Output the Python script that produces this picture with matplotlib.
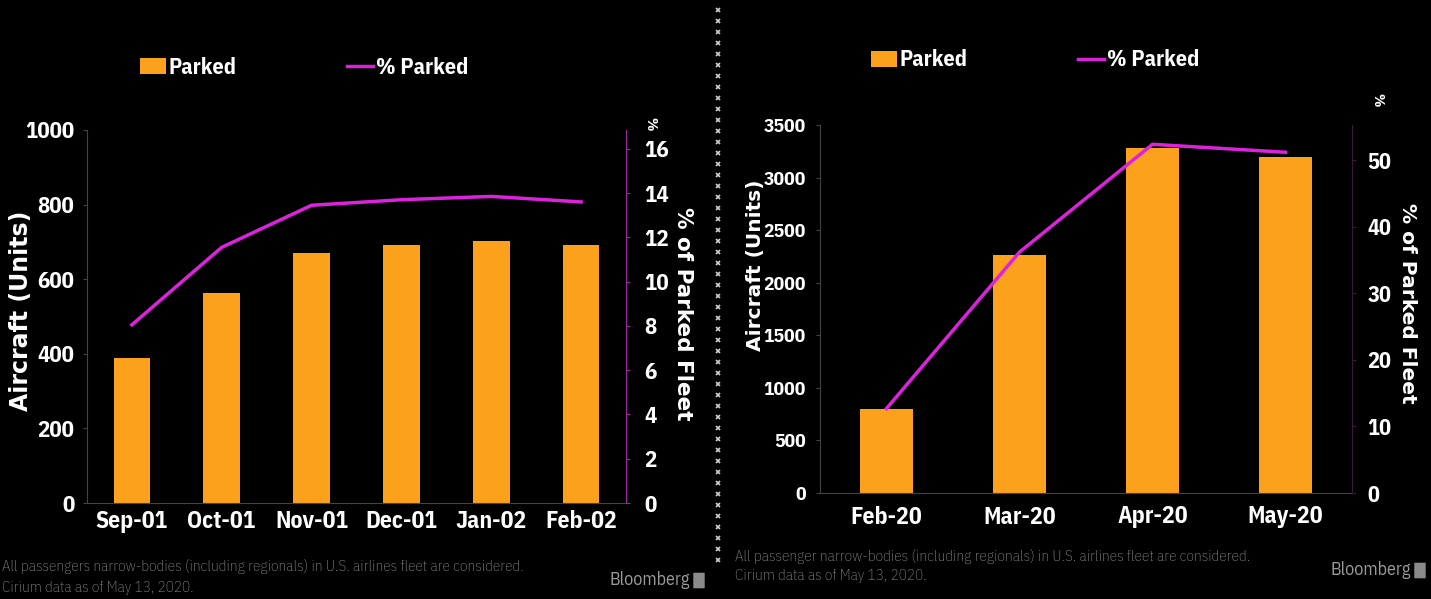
import matplotlib.pyplot as plt
from matplotlib.lines import Line2D
from matplotlib.patches import Patch, FancyBboxPatch
import numpy as np

# Data
months_2001 = ['Sep-01', 'Oct-01', 'Nov-01', 'Dec-01', 'Jan-02', 'Feb-02']
parked_2001 = [388, 564, 670, 693, 702, 693]
pct_2001 = [8.05, 11.55, 13.45, 13.7, 13.85, 13.6]

months_2020 = ['Feb-20', 'Mar-20', 'Apr-20', 'May-20']
parked_2020 = [800, 2268, 3278, 3198]
pct_2020 = [12.7, 36.2, 52.4, 51.2]

left_yticks = [0, 200, 400, 600, 800, 1000]
left_pct_ticks = [0, 2, 4, 6, 8, 10, 12, 14, 16]
right_yticks = [0, 500, 1000, 1500, 2000, 2500, 3000, 3500]
right_pct_ticks = [0, 10, 20, 30, 40, 50]

note_2001 = ("All passengers narrow-bodies (including regionals) in U.S. airlines fleet are considered.\n"
             "Cirium data as of May 13, 2020.")
note_2020 = ("All passenger narrow-bodies (including regionals) in U.S. airlines fleet are considered.\n"
             "Cirium data as of May 13, 2020.")

BG = '#000000'
ORANGE = '#FBA11B'
MAGENTA = '#DD22DD'
GRID = '#444444'
FONT = ['IBM Plex Sans Condensed', 'DejaVu Sans']
WIDE = ['DejaVu Sans']

plt.rcParams['font.family'] = FONT

W, H = 1431, 599
fig = plt.figure(figsize=(W / 100, H / 100), dpi=100)
fig.patch.set_facecolor(BG)


def px_axes(x0, y_top, x1, y_bot):
    return fig.add_axes([x0 / W, 1 - y_bot / H, (x1 - x0) / W, (y_bot - y_top) / H])


def style_panel(ax, ax2, spine2_color, ysize, ypad, y2size, y2pad):
    for a in (ax, ax2):
        a.set_facecolor('none')
        a.spines['top'].set_visible(False)
    ax.set_facecolor(BG)
    ax.spines['right'].set_visible(False)
    ax.spines['left'].set_color(GRID)
    ax.spines['bottom'].set_color(GRID)
    ax2.spines['left'].set_visible(False)
    ax2.spines['bottom'].set_visible(False)
    ax2.spines['right'].set_color(spine2_color)
    ax.tick_params(axis='y', colors=GRID, length=3, labelcolor='white', labelsize=ysize, pad=ypad)
    ax.tick_params(axis='x', length=0, labelcolor='white', labelsize=17, pad=5)
    ax2.tick_params(axis='y', colors=spine2_color, length=3, labelcolor='white',
                    labelsize=y2size, pad=y2pad)
    for lab in ax.get_xticklabels() + ax.get_yticklabels() + ax2.get_yticklabels():
        lab.set_fontweight('bold')


def add_legend(ax, x, y):
    handles = [Patch(facecolor=ORANGE, edgecolor='none'),
               Line2D([], [], color=MAGENTA, lw=2.5)]
    leg = ax.legend(handles, ['Parked', '% Parked'], ncol=2, frameon=False,
                    loc='center left', bbox_to_anchor=(x / W, 1 - y / H),
                    bbox_transform=fig.transFigure, handlelength=1.15, handleheight=0.7,
                    handletextpad=0.12, columnspacing=5.0, borderpad=0, borderaxespad=0,
                    prop={'family': FONT, 'weight': 'bold', 'size': 16})
    for t in leg.get_texts():
        t.set_color('white')


def credit(x_right, y):
    # "Bloomberg" wordmark with its small grey badge
    fig.text((x_right - 16) / W, 1 - y / H, 'Bloomberg', color='#9a9a9a', fontsize=13,
             ha='right', va='center')
    fig.patches.append(FancyBboxPatch(((x_right - 12) / W, 1 - (y + 8) / H), 10 / W, 15 / H,
                                      boxstyle='round,pad=0.0005', transform=fig.transFigure,
                                      facecolor='#8a8a8a', edgecolor='none'))


# ---- left panel: 2001 ----
ax = px_axes(87, 130, 626, 503)
ax2 = ax.twinx()
x1 = np.arange(len(months_2001))
ax.bar(x1, parked_2001, width=0.41, color=ORANGE, zorder=2)
ax2.plot(x1, pct_2001, color=MAGENTA, lw=2.5, zorder=3)
ax.set_xlim(-0.5, len(months_2001) - 0.5)
ax.set_ylim(0, 1000)
ax2.set_ylim(0, 16.85)
ax.set_yticks(left_yticks)
ax2.set_yticks(left_pct_ticks)
ax.set_xticks(x1)
ax.set_xticklabels(months_2001)
style_panel(ax, ax2, '#9A2A9A', 16.5, 6, 16.5, 10)
ax.set_ylabel('Aircraft (Units)', color='white', fontsize=17, fontweight='bold', family=WIDE)
ax.yaxis.set_label_coords(-0.1, 0.515)
fig.text(683 / W, 1 - 314 / H, '% of Parked Fleet', rotation=-90, color='white',
         fontsize=15.5, fontweight='bold', family=WIDE, ha='center', va='center')
fig.text(650 / W, 1 - 124 / H, '%', rotation=-90, color='white', fontsize=11,
         fontweight='bold', ha='center', va='center')
add_legend(ax, 140, 67)

# ---- right panel: 2020 ----
bx = px_axes(820, 125, 1352, 493)
bx2 = bx.twinx()
x2 = np.arange(len(months_2020))
bx.bar(x2, parked_2020, width=0.4, color=ORANGE, zorder=2)
bx2.plot(x2, pct_2020, color=MAGENTA, lw=2.5, zorder=3)
bx.set_xlim(-0.5, len(months_2020) - 0.5)
bx.set_ylim(0, 3500)
bx2.set_ylim(0, 55.3)
bx.set_yticks(right_yticks)
bx2.set_yticks(right_pct_ticks)
bx.set_xticks(x2)
bx.set_xticklabels(months_2020)
style_panel(bx, bx2, '#3c1a3c', 14, 7, 16, 8)
bx.tick_params(axis='x', pad=9)
bx.set_ylabel('Aircraft (Units)', color='white', fontsize=14.5, fontweight='bold', family=WIDE)
bx.yaxis.set_label_coords(-0.104, 0.62)
fig.text(1408 / W, 1 - 303 / H, '% of Parked Fleet', rotation=-90, color='white',
         fontsize=14.5, fontweight='bold', family=WIDE, ha='center', va='center')
fig.text(1377 / W, 1 - 100 / H, '%', rotation=-90, color='white', fontsize=11,
         fontweight='bold', ha='center', va='center')
add_legend(bx, 871, 60)

# ---- footnotes and credits ----
fig.text(2 / W, 1 - 577 / H, note_2001, color='#8c8c8c', fontsize=11, fontweight='light',
         ha='left', va='center', linespacing=1.65)
fig.text(735 / W, 1 - 566 / H, note_2020, color='#8c8c8c', fontsize=11, fontweight='light',
         ha='left', va='center', linespacing=1.5)
credit(706, 580)
credit(1427, 570)

# dotted divider between the two panels
ys = np.arange(10, 562, 11)
fig.add_artist(Line2D(np.full(len(ys), 718 / W), 1 - ys / H, transform=fig.transFigure,
                      ls='none', marker='x', ms=3.5, mew=1.2, color='#cfcfcf'))

fig.savefig('out.png', dpi=100, facecolor=fig.get_facecolor())
